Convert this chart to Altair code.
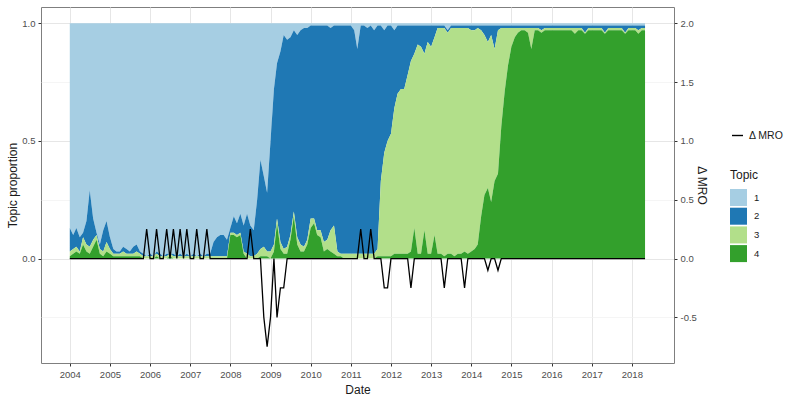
import altair as alt
import pandas as pd

# Monthly topic shares, January 2004 to May 2018 (12 values per year).
topic1 = [
    0.87, 0.90, 0.87, 0.91, 0.89, 0.84, 0.71, 0.83, 0.89, 0.94, 0.88, 0.84,  # 2004
    0.91, 0.96, 0.97, 0.97, 0.95, 0.96, 0.97, 0.95, 0.94, 0.97, 0.98, 0.99,  # 2005
    0.98, 0.99, 0.97, 0.98, 0.99, 0.98, 0.98, 0.98, 0.99, 0.98, 0.99, 0.98,  # 2006
    0.99, 0.98, 0.99, 0.98, 0.99, 0.98, 0.98, 0.93, 0.91, 0.90, 0.90, 0.92,  # 2007
    0.87, 0.82, 0.85, 0.81, 0.86, 0.81, 0.86, 0.88, 0.75, 0.58, 0.65, 0.72,  # 2008
    0.50, 0.28, 0.17, 0.12, 0.05, 0.07, 0.06, 0.03, 0.05, 0.03, 0.02, 0.02,  # 2009
    0.01, 0.01, 0.01, 0.01, 0.01, 0.01, 0.02, 0.01, 0.01, 0.01, 0.01, 0.01,  # 2010
    0.01, 0.03, 0.11, 0.01, 0.01, 0.02, 0.01, 0.03, 0.01, 0.01, 0.03, 0.01,  # 2011
    0.01, 0.03, 0.01, 0.01, 0.01, 0.01, 0.01, 0.01, 0.01, 0.01, 0.01, 0.01,  # 2012
    0.01, 0.01, 0.01, 0.01, 0.01, 0.03, 0.01, 0.01, 0.01, 0.01, 0.01, 0.01,  # 2013
    0.01, 0.01, 0.01, 0.01, 0.01, 0.01, 0.01, 0.01, 0.01, 0.01, 0.01, 0.01,  # 2014
    0.01, 0.01, 0.01, 0.01, 0.01, 0.01, 0.01, 0.01, 0.01, 0.01, 0.01, 0.01,  # 2015
    0.01, 0.01, 0.01, 0.01, 0.01, 0.01, 0.01, 0.01, 0.01, 0.01, 0.01, 0.01,  # 2016
    0.01, 0.01, 0.01, 0.01, 0.01, 0.01, 0.01, 0.01, 0.01, 0.01, 0.01, 0.01,  # 2017
    0.01, 0.01, 0.01, 0.01, 0.01,                                            # 2018
]
topic2 = [
    0.10, 0.06, 0.08, 0.06, 0.02, 0.10, 0.24, 0.09, 0.01, 0.02, 0.09, 0.09,
    0.05, 0.02, 0.01, 0.01, 0.02, 0.02, 0.01, 0.03, 0.03, 0.01, 0.01, 0.00,
    0.01, 0.00, 0.01, 0.01, 0.00, 0.01, 0.00, 0.01, 0.00, 0.01, 0.00, 0.01,
    0.00, 0.01, 0.00, 0.01, 0.00, 0.01, 0.01, 0.06, 0.08, 0.09, 0.09, 0.07,
    0.02, 0.07, 0.05, 0.08, 0.11, 0.17, 0.13, 0.11, 0.23, 0.38, 0.30, 0.25,
    0.47, 0.66, 0.66, 0.81, 0.91, 0.88, 0.84, 0.77, 0.86, 0.91, 0.93, 0.90,
    0.82, 0.82, 0.87, 0.87, 0.92, 0.91, 0.86, 0.85, 0.96, 0.97, 0.97, 0.97,
    0.97, 0.95, 0.87, 0.97, 0.97, 0.96, 0.97, 0.95, 0.95, 0.66, 0.52, 0.49,
    0.46, 0.33, 0.29, 0.27, 0.27, 0.21, 0.15, 0.12, 0.08, 0.09, 0.12, 0.07,
    0.09, 0.05, 0.01, 0.01, 0.01, 0.01, 0.01, 0.01, 0.01, 0.01, 0.01, 0.01,
    0.02, 0.02, 0.01, 0.02, 0.04, 0.07, 0.04, 0.10, 0.02, 0.01, 0.01, 0.01,
    0.01, 0.01, 0.01, 0.01, 0.01, 0.01, 0.01, 0.01, 0.01, 0.02, 0.01, 0.01,
    0.01, 0.01, 0.01, 0.01, 0.01, 0.01, 0.01, 0.01, 0.01, 0.01, 0.03, 0.01,
    0.01, 0.01, 0.01, 0.01, 0.03, 0.01, 0.01, 0.01, 0.01, 0.01, 0.03, 0.01,
    0.01, 0.01, 0.02, 0.01, 0.01,
]
topic3 = [
    0.02, 0.02, 0.02, 0.01, 0.03, 0.03, 0.03, 0.03, 0.02, 0.02, 0.02, 0.04,
    0.02, 0.01, 0.01, 0.01, 0.02, 0.01, 0.01, 0.01, 0.02, 0.01, 0.01, 0.01,
    0.01, 0.01, 0.01, 0.01, 0.01, 0.01, 0.01, 0.01, 0.01, 0.01, 0.01, 0.01,
    0.01, 0.01, 0.01, 0.01, 0.01, 0.01, 0.01, 0.01, 0.01, 0.01, 0.01, 0.01,
    0.01, 0.01, 0.01, 0.01, 0.01, 0.02, 0.01, 0.01, 0.02, 0.03, 0.04, 0.02,
    0.03, 0.03, 0.02, 0.03, 0.02, 0.03, 0.02, 0.02, 0.03, 0.03, 0.02, 0.02,
    0.04, 0.02, 0.02, 0.03, 0.04, 0.04, 0.09, 0.12, 0.02, 0.01, 0.02, 0.02,
    0.02, 0.02, 0.02, 0.02, 0.02, 0.02, 0.02, 0.02, 0.03, 0.32, 0.44, 0.49,
    0.52, 0.62, 0.68, 0.70, 0.70, 0.76, 0.81, 0.74, 0.89, 0.88, 0.75, 0.90,
    0.88, 0.84, 0.96, 0.96, 0.97, 0.94, 0.96, 0.97, 0.96, 0.96, 0.95, 0.96,
    0.94, 0.93, 0.92, 0.79, 0.68, 0.62, 0.71, 0.56, 0.61, 0.42, 0.27, 0.16,
    0.08, 0.04, 0.02, 0.01, 0.01, 0.02, 0.09, 0.01, 0.01, 0.01, 0.01, 0.01,
    0.01, 0.01, 0.01, 0.01, 0.01, 0.01, 0.01, 0.025, 0.01, 0.01, 0.005, 0.01,
    0.01, 0.01, 0.01, 0.01, 0.005, 0.01, 0.01, 0.01, 0.01, 0.01, 0.005, 0.01,
    0.01, 0.01, 0.015, 0.01, 0.01,
]
topic4 = [
    0.01, 0.02, 0.03, 0.02, 0.06, 0.03, 0.02, 0.05, 0.08, 0.02, 0.01, 0.03,
    0.02, 0.01, 0.01, 0.01, 0.01, 0.01, 0.01, 0.01, 0.01, 0.01, 0.00, 0.00,
    0.00, 0.00, 0.01, 0.00, 0.00, 0.00, 0.01, 0.00, 0.00, 0.00, 0.00, 0.00,
    0.00, 0.00, 0.00, 0.00, 0.00, 0.00, 0.00, 0.00, 0.00, 0.00, 0.00, 0.00,
    0.10, 0.10, 0.09, 0.10, 0.02, 0.00, 0.00, 0.00, 0.00, 0.01, 0.01, 0.01,
    0.00, 0.03, 0.15, 0.04, 0.02, 0.02, 0.08, 0.18, 0.06, 0.03, 0.03, 0.06,
    0.13, 0.15, 0.10, 0.09, 0.03, 0.04, 0.03, 0.02, 0.01, 0.01, 0.00, 0.00,
    0.00, 0.00, 0.00, 0.00, 0.00, 0.00, 0.00, 0.00, 0.01, 0.01, 0.01, 0.01,
    0.01, 0.02, 0.02, 0.02, 0.02, 0.02, 0.03, 0.13, 0.02, 0.02, 0.12, 0.02,
    0.02, 0.10, 0.02, 0.02, 0.01, 0.02, 0.02, 0.01, 0.02, 0.02, 0.03, 0.02,
    0.03, 0.04, 0.06, 0.18, 0.27, 0.30, 0.24, 0.33, 0.36, 0.56, 0.71, 0.82,
    0.90, 0.94, 0.96, 0.97, 0.97, 0.96, 0.89, 0.97, 0.97, 0.96, 0.97, 0.97,
    0.97, 0.97, 0.97, 0.97, 0.97, 0.97, 0.97, 0.955, 0.97, 0.97, 0.955, 0.97,
    0.97, 0.97, 0.97, 0.97, 0.955, 0.97, 0.97, 0.97, 0.97, 0.97, 0.955, 0.97,
    0.97, 0.97, 0.955, 0.97, 0.97,
]

# Monthly change of the ECB main refinancing rate (percentage points).
mro_change = [
    0, 0, 0, 0, 0, 0, 0, 0, 0, 0, 0, 0,                          # 2004
    0, 0, 0, 0, 0, 0, 0, 0, 0, 0, 0, 0.25,                       # 2005
    0, 0, 0.25, 0, 0, 0.25, 0, 0.25, 0, 0.25, 0, 0.25,           # 2006
    0, 0, 0.25, 0, 0, 0.25, 0, 0, 0, 0, 0, 0,                    # 2007
    0, 0, 0, 0, 0, 0, 0.25, 0, 0, 0, -0.5, -0.75,                # 2008
    -0.5, 0, -0.5, -0.25, -0.25, 0, 0, 0, 0, 0, 0, 0,            # 2009
    0, 0, 0, 0, 0, 0, 0, 0, 0, 0, 0, 0,                          # 2010
    0, 0, 0, 0.25, 0, 0, 0.25, 0, 0, 0, -0.25, -0.25,            # 2011
    0, 0, 0, 0, 0, 0, -0.25, 0, 0, 0, 0, 0,                      # 2012
    0, 0, 0, 0, -0.25, 0, 0, 0, 0, 0, -0.25, 0,                  # 2013
    0, 0, 0, 0, 0, -0.1, 0, 0, -0.1, 0, 0, 0,                    # 2014
    0, 0, 0, 0, 0, 0, 0, 0, 0, 0, 0, 0,                          # 2015
    0, 0, 0, 0, 0, 0, 0, 0, 0, 0, 0, 0,                          # 2016
    0, 0, 0, 0, 0, 0, 0, 0, 0, 0, 0, 0,                          # 2017
    0, 0, 0, 0, 0,                                               # 2018
]

topic_names = ["1", "2", "3", "4"]
topic_colors = ["#a6cee3", "#1f78b4", "#b2df8a", "#33a02c"]
year_ticks = [2004 + 0.5 * k for k in range(30)]   # years plus half-year gridlines
mro_label = "\u0394 MRO"

# Dates as fractional years so the x scale is linear in time
dates = pd.date_range("2004-01-01", periods=len(topic1), freq="MS")
when = dates.year + (dates.dayofyear - 1) / (365 + dates.is_leap_year.astype(int))

rows = []
for name, shares in zip(topic_names, [topic1, topic2, topic3, topic4]):
    for t, s in zip(when, shares):
        rows.append({"when": float(t), "Topic": name, "share": s})
topics = pd.DataFrame(rows)
mro = pd.DataFrame({"when": when.astype(float), "mro": mro_change, "series": mro_label})

x_domain = [2003.283, 2019.05]
y_domain = [-0.444, 1.069]
FONT = "Liberation Sans"

x_enc = alt.X(
    "when:Q",
    scale=alt.Scale(domain=x_domain, nice=False, zero=False),
    axis=alt.Axis(
        title="Date",
        values=year_ticks,
        labelExpr="datum.value % 1 == 0 ? format(datum.value, 'd') : ''",
        labelOverlap=False,
        labelFlush=False,
        tickOpacity={"condition": {"test": "datum.value % 1 == 0", "value": 1}, "value": 0},
        gridColor={"condition": {"test": "datum.value % 1 == 0", "value": "#e6e6e6"}, "value": "#f1f1f1"},
        gridWidth={"condition": {"test": "datum.value % 1 == 0", "value": 1}, "value": 0.7},
        titleBaseline="alphabetic",
        titleY=30,
    ),
)

area = alt.Chart(topics).mark_area(interpolate="linear", opacity=1).encode(
    x=x_enc,
    y=alt.Y(
        "share:Q",
        stack="zero",
        scale=alt.Scale(domain=y_domain, nice=False, zero=False),
        axis=alt.Axis(
            title="Topic proportion",
            orient="left",
            values=[-0.25, 0, 0.25, 0.5, 0.75, 1.0],
            labelExpr="indexof([0, 0.5, 1], datum.value) >= 0 ? format(datum.value, '.1f') : ''",
            tickOpacity={"condition": {"test": "indexof([0, 0.5, 1], datum.value) >= 0", "value": 1}, "value": 0},
            gridColor={"condition": {"test": "indexof([0, 0.5, 1], datum.value) >= 0", "value": "#e6e6e6"}, "value": "#f1f1f1"},
            gridWidth={"condition": {"test": "indexof([0, 0.5, 1], datum.value) >= 0", "value": 1}, "value": 0.7},
            titleAngle=-90,
            titleBaseline="alphabetic",
            titleAlign="center",
            titleX=-25,
            titleY=178,
        ),
    ),
    color=alt.Color(
        "Topic:N",
        scale=alt.Scale(domain=topic_names, range=topic_colors),
        legend=alt.Legend(
            orient="none",
            legendX=689,
            legendY=163,
            padding=0,
            titleFontSize=12,
            titleFontWeight="normal",
            titlePadding=7,
            titleBaseline="top",
            symbolType="square",
            symbolSize=289,
            symbolStrokeWidth=0,
            symbolOpacity=1,
            rowPadding=1.7,
            labelFontSize=9.5,
            labelOffset=7,
        ),
    ),
    order=alt.Order("Topic:N", sort="descending"),
)

line = alt.Chart(mro).mark_line(strokeWidth=1.3).encode(
    x=alt.X("when:Q"),
    y=alt.Y(
        "mro:Q",
        scale=alt.Scale(domain=[2 * y_domain[0], 2 * y_domain[1]], nice=False, zero=False),
        axis=alt.Axis(
            title=mro_label,
            orient="right",
            values=[-0.5, 0, 0.5, 1.0, 1.5, 2.0],
            labelExpr="replace(format(datum.value, '.1f'), '\u2212', '-')",
            grid=False,
            titleAngle=90,
            titleBaseline="alphabetic",
            titleAlign="center",
            titleX=23,
            titleY=178,
        ),
    ),
    color=alt.Color(
        "series:N",
        scale=alt.Scale(domain=[mro_label], range=["black"]),
        legend=alt.Legend(
            title=None,
            orient="none",
            legendX=690,
            legendY=122,
            padding=0,
            symbolType="stroke",
            symbolSize=121,
            symbolStrokeWidth=1.4,
            labelFontSize=10.5,
            labelOffset=5,
        ),
    ),
)

chart = (
    alt.layer(area, line)
    .resolve_scale(y="independent", color="independent")
    .properties(
        width=633,
        height=356,
        autosize=alt.AutoSizeParams(type="none"),
        padding={"left": 41, "top": 7, "right": 116, "bottom": 33},
        background="white",
    )
    .configure_view(stroke="#7f7f7f", strokeWidth=1)
    .configure_axis(
        domain=False,
        labelFont=FONT,
        titleFont=FONT,
        labelFontSize=9.5,
        titleFontSize=12,
        titleFontWeight="normal",
        labelColor="#4d4d4d",
        titleColor="#1a1a1a",
        tickColor="#333333",
        tickSize=3,
        labelPadding=3,
    )
    .configure_legend(labelFont=FONT, titleFont=FONT, labelColor="#1a1a1a", titleColor="#1a1a1a")
)

chart.save("out.html", embed_options={"renderer": "svg", "actions": False})
